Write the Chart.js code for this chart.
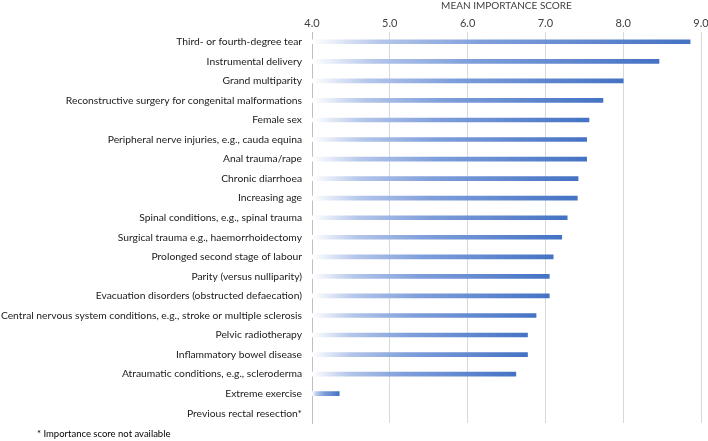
<!DOCTYPE html>
<html>
<head>
<meta charset="utf-8">
<script src="https://cdn.jsdelivr.net/npm/chart.js@4/dist/chart.umd.min.js"></script>
<style>
html,body{margin:0;padding:0;background:#fff;}
#wrap{position:relative;width:708px;height:441px;}
</style>
</head>
<body>
<div id="wrap"><canvas id="c" width="708" height="441"></canvas></div>
<script>
const categories = [
  "Third- or fourth-degree tear",
  "Instrumental delivery",
  "Grand multiparity",
  "Reconstructive surgery for congenital malformations",
  "Female sex",
  "Peripheral nerve injuries, e.g., cauda equina",
  "Anal trauma/rape",
  "Chronic diarrhoea",
  "Increasing age",
  "Spinal conditions, e.g., spinal trauma",
  "Surgical trauma e.g., haemorrhoidectomy",
  "Prolonged second stage of labour",
  "Parity (versus nulliparity)",
  "Evacuation disorders (obstructed defaecation)",
  "Central nervous system conditions, e.g., stroke or multiple sclerosis",
  "Pelvic radiotherapy",
  "Inflammatory bowel disease",
  "Atraumatic conditions, e.g., scleroderma",
  "Extreme exercise",
  "Previous rectal resection*"
];
const meanScores = [8.86, 8.46, 8.0, 7.74, 7.56, 7.53, 7.53, 7.42, 7.41, 7.28, 7.21, 7.10, 7.05, 7.05, 6.88, 6.77, 6.77, 6.62, 4.35, null];
const tickValues = [4.0, 5.0, 6.0, 7.0, 8.0, 9.0];
const axisTitle = "MEAN IMPORTANCE SCORE";
const footnote = "* Importance score not available";

const FONT = "Lato, 'Open Sans', sans-serif";
const TEXT = "#404040";

function barGradient(ctx) {
  const chart = ctx.chart;
  const area = chart.chartArea;
  if (!area || ctx.type !== 'data') return '#4472C4';
  const v = ctx.raw;
  if (v == null) return '#4472C4';
  const xs = chart.scales.x;
  const x0 = xs.getPixelForValue(xs.min);
  const x1 = xs.getPixelForValue(v);
  const g = chart.ctx.createLinearGradient(x0, 0, Math.max(x1, x0 + 1), 0);
  g.addColorStop(0, 'rgba(255,255,255,1)');
  g.addColorStop(0.18, '#b4c6ea');
  g.addColorStop(0.45, '#7f9fdb');
  g.addColorStop(1, '#4472C4');
  return g;
}

const footnotePlugin = {
  id: 'footnote',
  afterDraw(chart) {
    const c = chart.ctx;
    c.save();
    c.font = "9.5px " + FONT;
    c.fillStyle = "#000";
    c.textBaseline = 'middle';
    c.textAlign = 'left';
    c.fillText(footnote, 37, 434);
    c.restore();
  }
};

new Chart(document.getElementById('c'), {
  type: 'bar',
  data: {
    labels: categories,
    datasets: [{
      data: meanScores,
      backgroundColor: barGradient,
      borderWidth: 0,
      barThickness: 4
    }]
  },
  options: {
    indexAxis: 'y',
    responsive: false,
    animation: false,
    layout: { padding: { left: 0, right: 7, top: 0, bottom: 18 } },
    plugins: { legend: { display: false }, tooltip: { enabled: false } },
    scales: {
      x: {
        position: 'top',
        min: 4, max: 9,
        afterBuildTicks(scale) { scale.ticks = tickValues.map(v => ({ value: v })); },
        afterFit(scale) { scale.height = 32; scale.paddingRight = 0; scale.paddingLeft = 0; },
        ticks: {
          callback: v => Number(v).toFixed(1),
          color: TEXT,
          font: { family: FONT, size: 11 },
          padding: 2,
          maxRotation: 0
        },
        title: {
          display: true,
          text: axisTitle,
          color: TEXT,
          font: { family: FONT, size: 10 },
          padding: { top: 0, bottom: 0 }
        },
        grid: { color: '#d9d9d9', lineWidth: 1, drawTicks: false },
        border: { display: false }
      },
      y: {
        afterFit(scale) { scale.width = 312; },
        ticks: {
          color: '#1a1a1a',
          font: { family: FONT, size: 10.3 },
          padding: 10,
          autoSkip: false
        },
        grid: { display: false, drawTicks: false },
        border: { display: true, color: '#bfbfbf', width: 1 }
      }
    }
  },
  plugins: [footnotePlugin]
});
</script>
</body>
</html>
